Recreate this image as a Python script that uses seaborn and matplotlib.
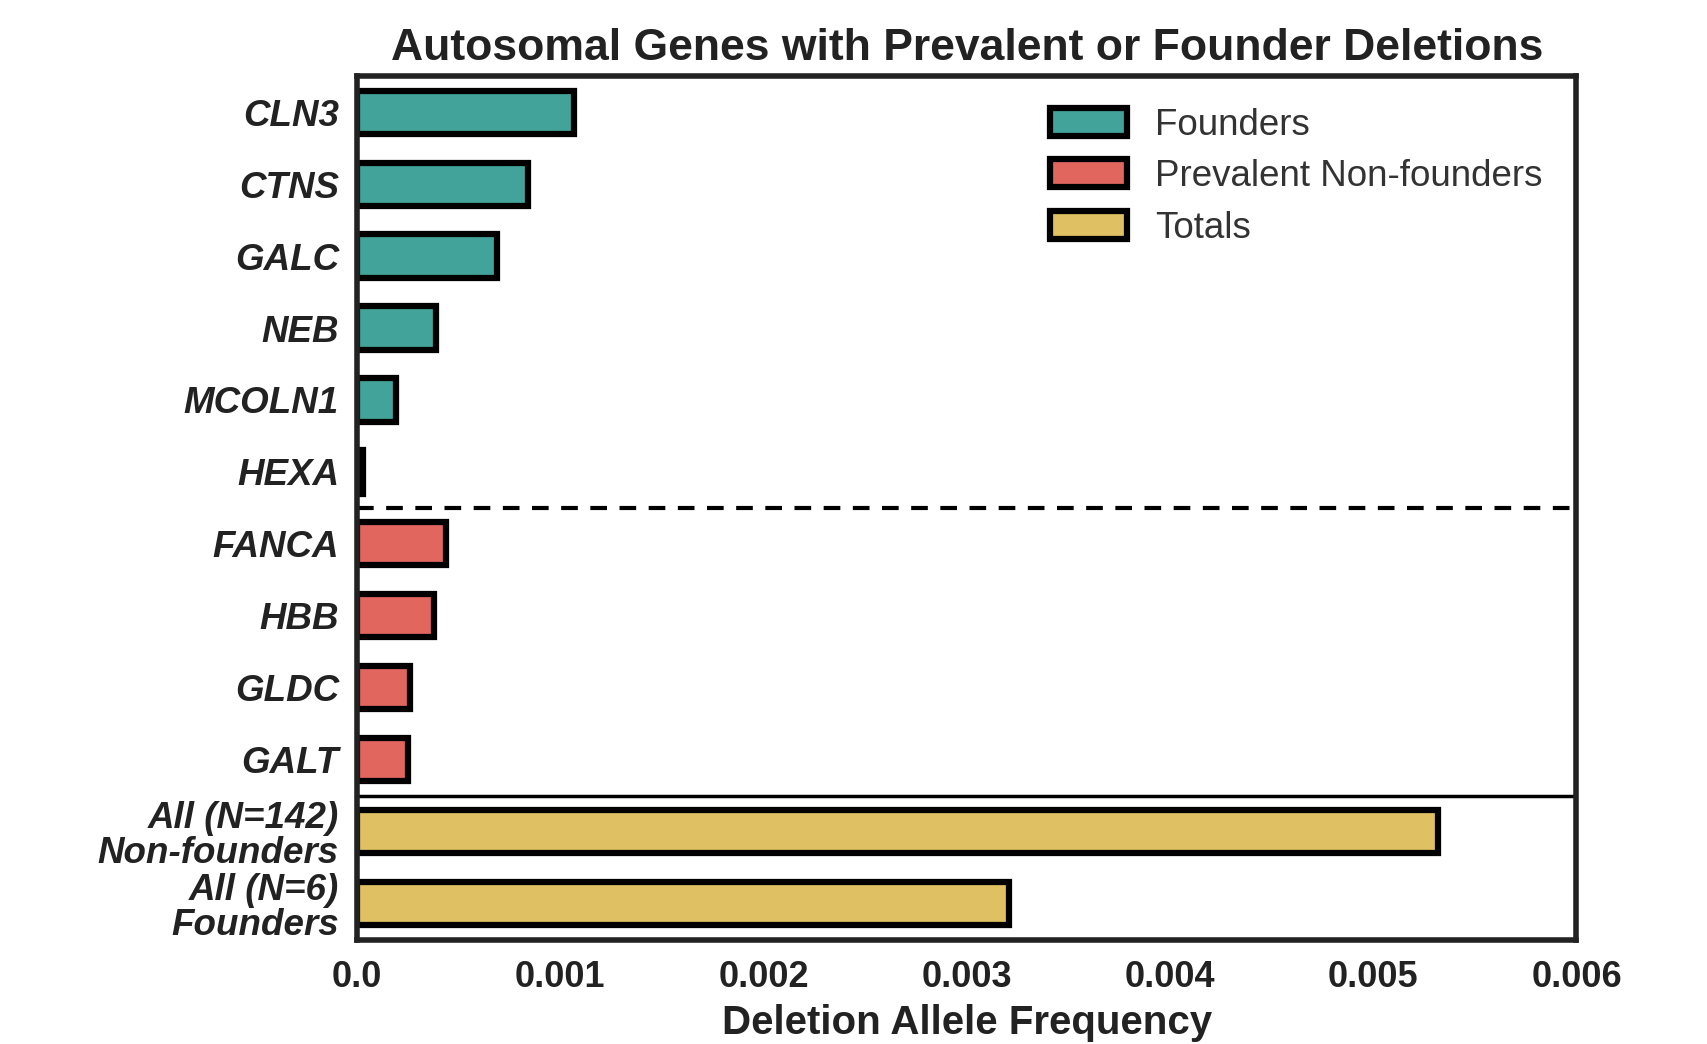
import matplotlib
matplotlib.use("Agg")
import matplotlib.pyplot as plt
import matplotlib.patches as mpatches
import seaborn as sns
import pandas as pd

# dati
geni = ["CLN3", "CTNS", "GALC", "NEB", "MCOLN1", "HEXA",
        "FANCA", "HBB", "GLDC", "GALT",
        "All (N=142)\nNon-founders", "All (N=6)\nFounders"]
frequenze = [0.00107, 0.00084, 0.00069, 0.00039, 0.00019, 0.00003,
             0.00044, 0.00038, 0.00026, 0.00025,
             0.00532, 0.00321]
gruppi = ["Founders"] * 6 + ["Prevalent Non-founders"] * 4 + ["Totals"] * 2

colori = {"Founders": "#42a39a",
          "Prevalent Non-founders": "#e0665e",
          "Totals": "#dfc163"}

sns.set_theme(style="white")
plt.rcParams['font.family'] = ['Liberation Sans', 'DejaVu Sans']

df = pd.DataFrame({"gene": geni, "freq": frequenze, "gruppo": gruppi})

fig = plt.figure(figsize=(17.08, 10.44), dpi=100)
ax = fig.add_axes([0.209, 0.100, 0.714, 0.827])

sns.barplot(data=df, x="freq", y="gene", hue="gruppo", palette=colori,
            orient="h", dodge=False, width=0.6, edgecolor="black",
            linewidth=4.5, saturation=1, legend=False, ax=ax)

# separatori tra i gruppi
ax.axhline(5.5, color="black", linestyle="--", linewidth=3, dashes=(4, 3))
ax.axhline(9.5, color="black", linewidth=2.5)

ax.set_xlim(0, 0.006)
ax.set_ylim(11.5, -0.5)
ax.set_xticks([0.0, 0.001, 0.002, 0.003, 0.004, 0.005, 0.006])
ax.set_xticklabels(["0.0", "0.001", "0.002", "0.003", "0.004", "0.005", "0.006"],
                   fontsize=26, fontweight="bold", color="#222222")
for lab in ax.get_yticklabels():
    lab.set_fontsize(26.5)
    lab.set_fontweight("bold")
    lab.set_fontstyle("italic")
    lab.set_color("#222222")
    lab.set_linespacing(1.0)
ax.tick_params(axis="x", length=0, pad=15)
ax.tick_params(axis="y", length=0, pad=13)

ax.set_ylabel("")
ax.set_xlabel("Deletion Allele Frequency", fontsize=29, fontweight="bold",
              color="#222222", labelpad=6)
ax.set_title("Autosomal Genes with Prevalent or Founder Deletions",
             fontsize=32, fontweight="bold", color="#222222", pad=12)

for s in ax.spines.values():
    s.set_linewidth(4)
    s.set_color("#222222")

# legenda
maniglie = [mpatches.Patch(facecolor=colori[g], edgecolor="black", linewidth=4.5, label=g)
            for g in ["Founders", "Prevalent Non-founders", "Totals"]]
ax.legend(handles=maniglie, loc="upper right", frameon=False, fontsize=26.5,
          handlelength=2.1, handleheight=0.8, handletextpad=0.75,
          labelspacing=0.45, bbox_to_anchor=(0.999, 1.002), labelcolor="#333333")

fig.savefig("out.png", dpi=100)
